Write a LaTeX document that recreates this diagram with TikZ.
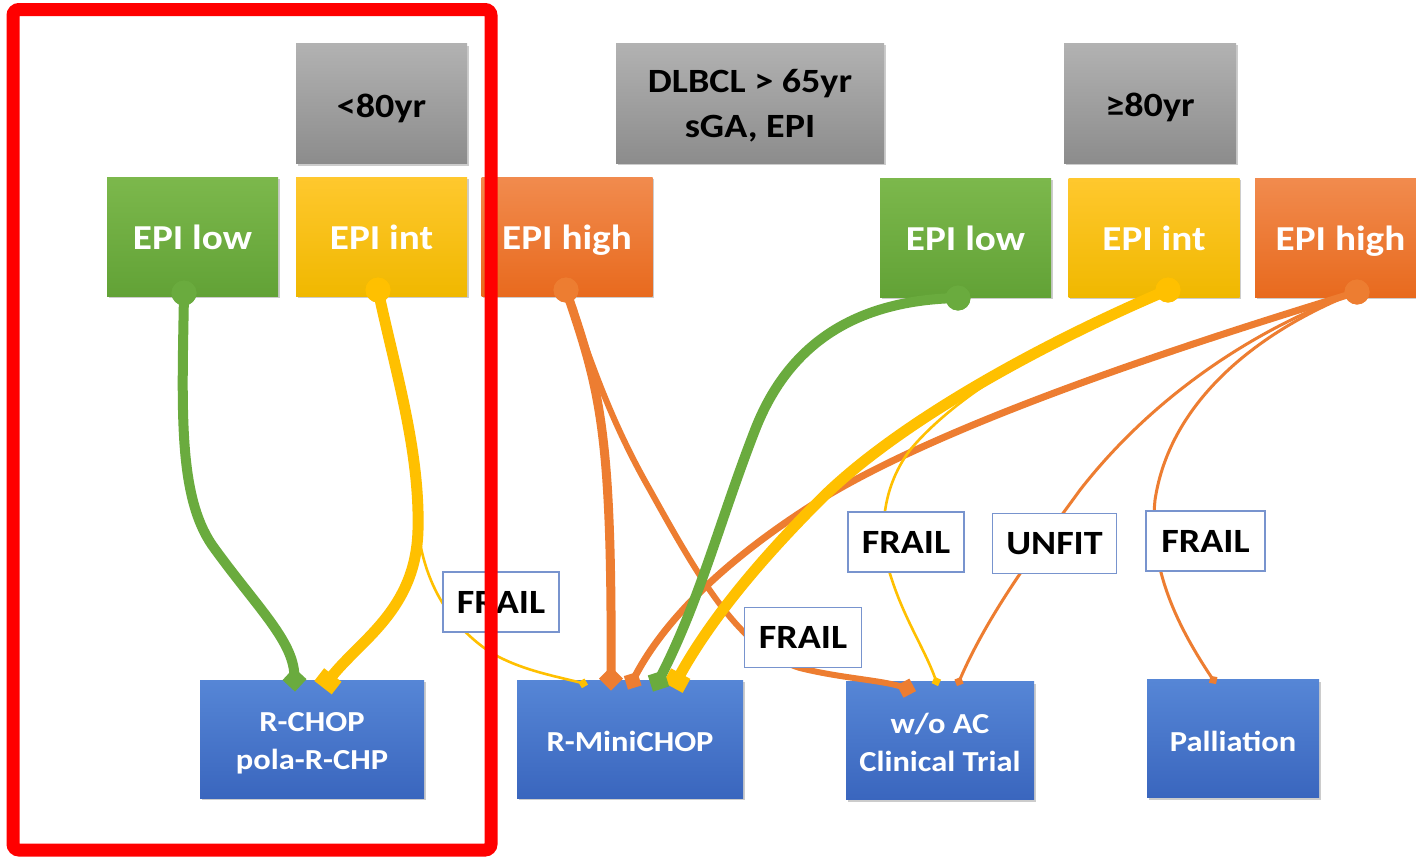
\documentclass[tikz,border=0pt]{standalone}
\usepackage{fontspec}
\setmainfont{Carlito}[FakeStretch=1.12]
\usetikzlibrary{arrows.meta,shadows,calc}
\definecolor{grayT}{RGB}{178,178,178}
\definecolor{grayB}{RGB}{140,140,140}
\definecolor{greenT}{RGB}{124,184,76}
\definecolor{greenB}{RGB}{98,162,54}
\definecolor{yellT}{RGB}{255,200,46}
\definecolor{yellB}{RGB}{240,184,0}
\definecolor{orT}{RGB}{241,139,78}
\definecolor{orB}{RGB}{232,106,30}
\definecolor{blueT}{RGB}{86,134,214}
\definecolor{blueB}{RGB}{58,102,190}
\definecolor{gline}{RGB}{106,171,62}
\definecolor{yline}{RGB}{255,192,0}
\definecolor{oline}{RGB}{237,125,49}
\definecolor{lblue}{RGB}{120,148,206}
\tikzset{
  shade box/.style={inner sep=0pt, drop shadow={shadow xshift=0.8pt, shadow yshift=-1pt, opacity=0.2, fill=black}},
  graybox/.style={shade box, minimum height=60pt, top color=grayT, bottom color=grayB, text=black, align=center,
    font=\bfseries\fontsize{17}{22.5}\selectfont},
  grayone/.style={graybox, text height=14.5pt, text depth=1pt},
  epibox/.style={shade box, minimum width=85.5pt, minimum height=59.5pt, text=white,
    text height=14pt, text depth=1.5pt, font=\bfseries\fontsize{17.5}{21}\selectfont},
  lowbox/.style={epibox, top color=greenT, bottom color=greenB},
  intbox/.style={epibox, top color=yellT, bottom color=yellB},
  highbox/.style={epibox, top color=orT, bottom color=orB},
  txbox/.style={shade box, minimum height=59pt, top color=blueT, bottom color=blueB, text=white, align=center,
    font=\bfseries\fontsize{14.5}{19}\selectfont},
  txone/.style={txbox, text height=13pt, text depth=0.5pt},
  lbl/.style={draw=lblue, line width=0.6pt, fill=white, inner sep=0pt, minimum height=30pt,
    font=\bfseries\fontsize{17}{20}\selectfont},
  dot/.style={circle, inner sep=0pt, minimum size=12.5pt, fill=#1},
  gthick/.style={draw=gline, line width=5pt},
  ythick/.style={draw=yline, line width=5.5pt},
  othick/.style={draw=oline, line width=4.5pt},
  othin/.style={draw=oline, line width=1.5pt, -{Diamond[length=5pt,width=5pt]}},
  ythin/.style={draw=yline, line width=1.3pt, -{Diamond[length=5pt,width=5pt]}},
  bigdia/.style={-{Diamond[length=12pt,width=12pt]}},
  meddia/.style={-{Diamond[length=10pt,width=10pt]}},
  bigsq/.style={-{Square[length=8pt,width=11pt]}},
}
\begin{document}
\begin{tikzpicture}[x=0.5pt,y=-0.5pt]
\clip (0,0) rectangle (1416,857);
\fill[white] (0,0) rectangle (1416,857);

% header boxes
\node[grayone, minimum width=85.5pt] (ageA) at (381.5,103.5) {<80yr};
\node[graybox, minimum width=134pt] (dlbcl) at (750,103) {\rule{0pt}{14pt}DLBCL > 65yr\\sGA, EPI};
\node[grayone, minimum width=86pt] (ageB) at (1150,103) {≥80yr};

% EPI boxes
\node[lowbox]  (lowL)  at (192.5,236.5) {EPI low};
\node[intbox]  (intL)  at (381.5,236.5) {EPI int};
\node[highbox] (highL) at (567,236.5)   {EPI high};
\node[lowbox]  (lowR)  at (965.5,237.5) {EPI low};
\node[intbox]  (intR)  at (1154,237.5)  {EPI int};
\node[highbox] (highR) at (1340.5,237.5){EPI high};

% treatment boxes
\node[txbox, minimum width=112pt] (rchop) at (312,739)    {\rule{0pt}{14pt}R-CHOP\\pola-R-CHP};
\node[txone, minimum width=113pt] (mini)  at (630,739)    {R-MiniCHOP};
\node[txbox, minimum width=94pt]  (woac)  at (940,740.5)  {\rule{0pt}{12.5pt}w/o AC\\Clinical Trial};
\node[txone, minimum width=86pt]  (pall)  at (1233,738.5) {Palliation};

% start dots
\node[dot=gline] (dLowL)  at (184,293) {};
\node[dot=yline] (dIntL)  at (378,290) {};
\node[dot=oline] (dHighL) at (566,290) {};
\node[dot=gline] (dLowR)  at (958,298) {};
\node[dot=yline] (dIntR)  at (1168,290) {};
\node[dot=oline] (dHighR) at (1357,292) {};

% orange connectors
\draw[othin] (dHighR.center) .. controls (1250,330) and (1150,400) .. (1080,490)
  .. controls (1040,545) and (990,610) .. ($(woac.north)+(17,5)$);
\draw[othin] (dHighR.center) .. controls (1260,330) and (1170,400) .. (1155,500)
  .. controls (1148,570) and (1180,630) .. ($(pall.north)+(-17,5)$);
\draw[draw=oline, line width=3pt, meddia] (dHighL.center) .. controls (590,360) and (610,420) .. (650,490)
  .. controls (700,580) and (740,650) .. (800,668)
  .. controls (840,678) and (880,680) .. ($(woac.north)+(-24,10)$);
\draw[othick, bigdia] (dHighL.center) .. controls (600,390) and (612,430) .. ($(mini.north)+(-19,11)$);
\draw[draw=oline, line width=3.5pt, meddia] (dHighR.center) .. controls (1200,340) and (950,420) .. (820,500)
  .. controls (740,550) and (670,610) .. ($(mini.north)+(-2,10)$);

% yellow connectors
\draw[ythin] (dIntL.center) .. controls (395,370) and (420,450) .. (418,530)
  .. controls (425,585) and (450,625) .. (490,652)
  .. controls (520,670) and (555,676) .. ($(mini.north)+(-42,5)$);
\draw[ythick, bigsq] (dIntL.center) .. controls (395,370) and (420,450) .. (418,530)
  .. controls (416,610) and (360,640) .. ($(rchop.north)+(11,8)$);
\draw[ythin] (dIntR.center) .. controls (1060,335) and (960,390) .. (910,450)
  .. controls (880,490) and (878,540) .. (892,580)
  .. controls (905,620) and (925,650) .. ($(woac.north)+(-2,5)$);
\draw[ythick, bigsq] (dIntR.center) .. controls (1050,340) and (900,420) .. (820,500)
  .. controls (760,560) and (710,620) .. ($(mini.north)+(43,8)$);

% green connectors
\draw[gthick, bigdia] (dLowL.center) .. controls (182,410) and (178,495) .. (212,545)
  .. controls (255,605) and (293,640) .. ($(rchop.north)+(-17,12)$);
\draw[gthick, bigdia] (dLowR.center) .. controls (860,300) and (790,340) .. (755,430)
  .. controls (720,520) and (700,600) .. ($(mini.north)+(23,12)$);

% redraw dots on top
\node[dot=gline] at (dLowL) {};
\node[dot=yline] at (dIntL) {};
\node[dot=oline] at (dHighL) {};
\node[dot=gline] at (dLowR) {};
\node[dot=yline] at (dIntR) {};
\node[dot=oline] at (dHighR) {};

% labels
\node[lbl, minimum width=58pt]   (f1)    at (501,602)    {FRAIL};
\node[lbl, minimum width=58.5pt] (f2)    at (803,637.5)  {FRAIL};
\node[lbl, minimum width=58pt]   (f3)    at (906,542)    {FRAIL};
\node[lbl, minimum width=62pt]   (unfit) at (1054.5,543.5) {UNFIT};
\node[lbl, minimum width=59.5pt] (f4)    at (1205.5,541) {FRAIL};

% red frame
\draw[draw={rgb,255:red,255;green,0;blue,0}, line width=6.5pt, rounded corners=3pt] (13,9.5) rectangle (491,850);
\end{tikzpicture}
\end{document}
